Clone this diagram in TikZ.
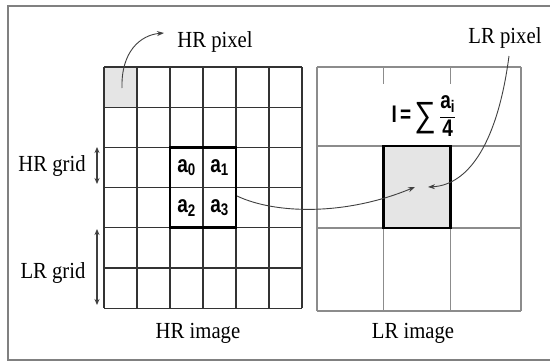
\documentclass[tikz,border=0pt]{standalone}
\usepackage{fontspec}
\setmainfont{Liberation Serif}
\setsansfont{Liberation Sans}
\usetikzlibrary{arrows.meta}
\newcommand\cnd[1]{\scalebox{0.9}[1]{#1}}
\newcommand\tall[1]{\scalebox{0.95}[1.2]{#1}}
\begin{document}
\begin{tikzpicture}[x=1pt,y=-1pt,
 hrline/.style={draw=black!80, line width=1.3pt},
 lrline/.style={draw=black!45, line width=1.3pt},
 boldbox/.style={draw=black, line width=2.8pt},
 lbl/.style={font=\fontsize{23}{26}\selectfont, inner sep=0pt, anchor=base},
 cellt/.style={font=\sffamily\bfseries\fontsize{20}{22}\selectfont, inner sep=0pt},
 conn/.style={draw=black!75, line width=0.9pt, -{Stealth[length=7pt,width=5pt]}},
 dimarr/.style={draw=black!75, line width=1.3pt, {Stealth[length=6pt,width=5pt]}-{Stealth[length=6pt,width=5pt]}}
]
\useasboundingbox (0,0) rectangle (550,362);
\fill[white] (0,0) rectangle (550,362);
\draw[black!50, line width=1.5pt] (553,6) -- (8,6) -- (8,360) -- (553,360);

% HR grid
\fill[black!10] (104,67) rectangle (137,107.2);
\foreach \x in {104,137,170,203,236,269,302} \draw[hrline] (\x,67) -- (\x,308.2);
\foreach \y in {67,107.2,147.4,187.6,227.8,268,308.2} \draw[hrline] (104,\y) -- (302,\y);
\draw[boldbox] (170,147.4) rectangle (236,227.8);

% LR grid
\foreach \x in {317,521} \draw[lrline] (\x,67) -- (\x,311);
\foreach \x in {383.5,450.5} {\draw[lrline] (\x,146) -- (\x,311); \draw[lrline] (\x,67) -- (\x,84);}
\foreach \y in {67,146,228,311} \draw[lrline] (317,\y) -- (521,\y);
\node[boldbox, fill=black!10, minimum width=67pt, minimum height=82pt, inner sep=0pt] (lrcell) at (417,187) {};

% labels
\node[lbl] (hrpix) at (215,47) {\cnd{HR pixel}};
\node[lbl] (lrpix) at (505,43) {\cnd{LR pixel}};
\node[lbl] (hrgrid) at (52,171) {\cnd{HR grid}};
\node[lbl] (lrgrid) at (53,278) {\cnd{LR grid}};
\node[lbl] (hrimg) at (198,338) {\cnd{HR image}};
\node[lbl] (lrimg) at (413,338) {\cnd{LR image}};

\node[cellt] (a0) at (186.5,167.5) {\tall{a\textsubscript{0}}};
\node[cellt] (a1) at (219.5,167.5) {\tall{a\textsubscript{1}}};
\node[cellt] (a2) at (186.5,207.7) {\tall{a\textsubscript{2}}};
\node[cellt] (a3) at (219.5,207.7) {\tall{a\textsubscript{3}}};

\node[cellt] (formula) at (424,116)
  {\tall{I\,=\,}\raisebox{-4pt}{\scalebox{1.5}[1.75]{\mdseries ∑}}\,$\displaystyle\frac{\mbox{\tall{a\textsubscript{i}}}}{\mbox{\tall{4}}}$};

% dimension arrows
\coordinate (hg1) at (97,147);
\coordinate (hg2) at (97,184);
\coordinate (lg1) at (97,229);
\coordinate (lg2) at (97,305);
\draw[dimarr] (hg1) -- (hg2);
\draw[dimarr] (lg1) -- (lg2);

% connectors
\coordinate (hrsrc) at (122,88);
\coordinate (hrtip) at (164,33);
\draw[conn] (hrsrc) .. controls (121,52) and (140,35) .. (hrtip);
\coordinate (lrsrc) at (509,56);
\draw[conn] (lrsrc) .. controls (498,140) and (470,185) .. ([xshift=11pt]lrcell.center);
\coordinate (a3out) at (237,196);
\draw[conn] (a3out) .. controls (275,214) and (345,216) .. ([xshift=-2pt]lrcell.center);
\end{tikzpicture}
\end{document}
